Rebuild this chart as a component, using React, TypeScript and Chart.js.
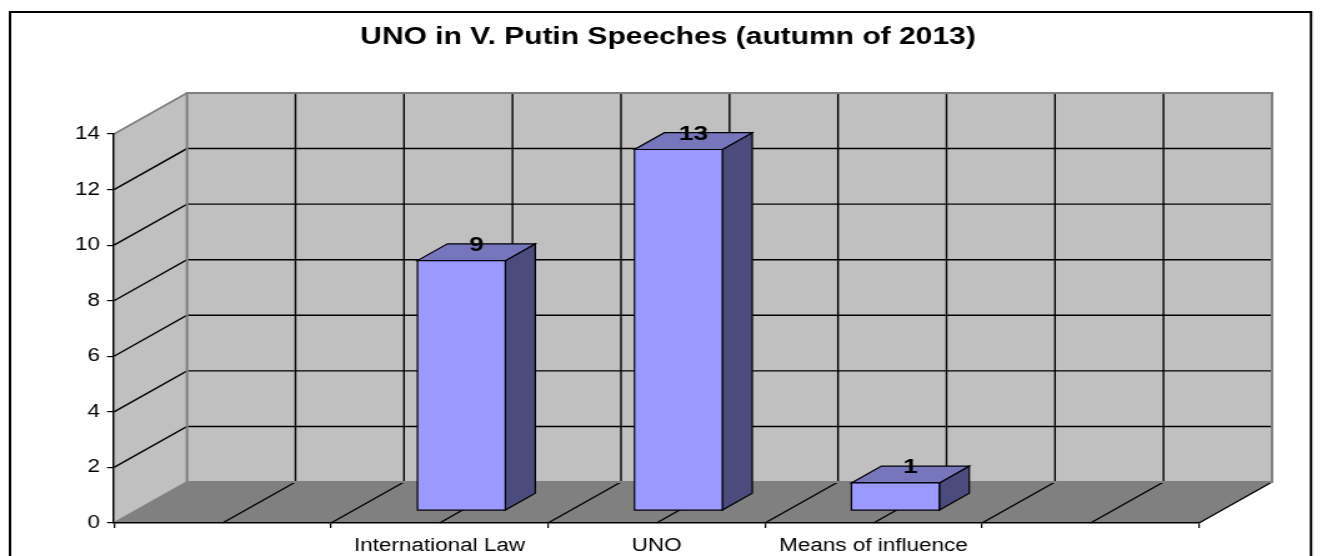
import React, { useEffect, useRef } from 'react';
import { Chart, registerables } from 'chart.js';

Chart.register(...registerables);

// ---------- data ----------
const categories: string[] = ['', 'International Law', 'UNO', 'Means of influence', ''];
const mentions: (number | null)[] = [null, 9, 13, 1, null];
const yTickValues: number[] = [0, 2, 4, 6, 8, 10, 12, 14];
const titleText = 'UNO in V. Putin Speeches (autumn of 2013)';

// ---------- geometry / style ----------
const CSS_W = 1322;
const CSS_H = 556;
const W = 1058; // intrinsic canvas width, stretched horizontally to CSS_W
const H = 556;
const SX = CSS_W / W;
const cx = (v: number) => v / SX; // css x -> intrinsic x

const FONT = 'Arial, "Liberation Sans", sans-serif';
const PLOT_LEFT = cx(114);
const PLOT_RIGHT = cx(1199);
const PLOT_TOP = 134;
const DX = cx(73); // depth offset (x)
const DY = -41; // depth offset (y)
const BAR_FRONT = 0.3; // depth fraction where bar front face sits
const BAR_DEPTH = 0.41; // depth fraction of bar
const FRAME_L = cx(10);
const FRAME_R = cx(1311);
const FRAME_T = 12;
const TITLE_X = cx(668);
const TITLE_Y = 37;

const WALL = '#C0C0C0';
const FLOOR = '#808080';
const EDGE = '#808080';
const BAR_FRONT_COLOR = '#9999FF';
const BAR_TOP_COLOR = '#7676BD';
const BAR_SIDE_COLOR = '#4B4B7D';

function poly(ctx: CanvasRenderingContext2D, pts: number[][], fill?: string, stroke?: string, lw = 1) {
  ctx.beginPath();
  ctx.moveTo(pts[0][0], pts[0][1]);
  for (let i = 1; i < pts.length; i++) ctx.lineTo(pts[i][0], pts[i][1]);
  ctx.closePath();
  if (fill) {
    ctx.fillStyle = fill;
    ctx.fill();
  }
  if (stroke) {
    ctx.strokeStyle = stroke;
    ctx.lineWidth = lw;
    ctx.stroke();
  }
}

function line(ctx: CanvasRenderingContext2D, x1: number, y1: number, x2: number, y2: number, color: string, lw: number) {
  ctx.beginPath();
  ctx.moveTo(x1, y1);
  ctx.lineTo(x2, y2);
  ctx.strokeStyle = color;
  ctx.lineWidth = lw;
  ctx.stroke();
}

const threeDPlugin = {
  id: 'threeD',
  beforeDraw(chart: any) {
    const { ctx } = chart;
    const xs = chart.scales.x;
    const ys = chart.scales.y;
    const yMax = yTickValues[yTickValues.length - 1];
    const y0 = ys.getPixelForValue(0);
    const yT = ys.getPixelForValue(yMax);
    const xl = xs.getPixelForValue(-0.5);
    const xr = xs.getPixelForValue(categories.length - 0.5);
    ctx.save();
    ctx.fillStyle = '#ffffff';
    ctx.fillRect(0, 0, chart.width, chart.height);
    // outer frame
    ctx.strokeStyle = '#000';
    ctx.lineWidth = 2;
    ctx.strokeRect(FRAME_L, FRAME_T, FRAME_R - FRAME_L, 700);

    // title
    ctx.fillStyle = '#000';
    ctx.font = `bold 24px ${FONT}`;
    ctx.textAlign = 'center';
    ctx.textBaseline = 'middle';
    ctx.fillText(titleText, TITLE_X, TITLE_Y);

    // walls and floor
    poly(ctx, [[xl, yT], [xl + DX, yT + DY], [xl + DX, y0 + DY], [xl, y0]], WALL);
    poly(ctx, [[xl + DX, yT + DY], [xr + DX, yT + DY], [xr + DX, y0 + DY], [xl + DX, y0 + DY]], WALL);
    poly(ctx, [[xl, y0], [xr, y0], [xr + DX, y0 + DY], [xl + DX, y0 + DY]], FLOOR);

    // value gridlines
    yTickValues.forEach((v) => {
      if (v === 0 || v === yMax) return;
      const yy = ys.getPixelForValue(v);
      ctx.beginPath();
      ctx.moveTo(xl, yy);
      ctx.lineTo(xl + DX, yy + DY);
      ctx.lineTo(xr + DX, yy + DY);
      ctx.strokeStyle = '#000';
      ctx.lineWidth = 1.4;
      ctx.stroke();
    });

    // category gridlines (every half category)
    const steps = categories.length * 2;
    for (let k = 1; k <= steps; k++) {
      const xv = xs.getPixelForValue(-0.5 + k * 0.5);
      if (k < steps) line(ctx, xv + DX, yT + DY, xv + DX, y0 + DY, '#000', 1.4);
      line(ctx, xv, y0, xv + DX, y0 + DY, '#000', 1.4);
    }

    // wall edges
    line(ctx, xl, yT, xl + DX, yT + DY, EDGE, 1.6);
    line(ctx, xl, y0, xl + DX, y0 + DY, EDGE, 1.6);
    ctx.strokeStyle = EDGE;
    ctx.lineWidth = 2;
    ctx.strokeRect(xl + DX, yT + DY, xr - xl, y0 - yT);
    ctx.restore();
  },
  beforeDatasetDraw() {
    return false;
  },
  afterDatasetsDraw(chart: any) {
    const { ctx } = chart;
    const meta = chart.getDatasetMeta(0);
    ctx.save();
    meta.data.forEach((el: any, i: number) => {
      const v = mentions[i];
      if (v === null || v === undefined) return;
      const p = el.getProps(['x', 'y', 'base', 'width'], true);
      const ox = BAR_FRONT * DX;
      const oy = BAR_FRONT * DY;
      const dx = BAR_DEPTH * DX;
      const dy = BAR_DEPTH * DY;
      const L = p.x - p.width / 2 + ox;
      const R = p.x + p.width / 2 + ox;
      const T = p.y + oy;
      const B = p.base + oy;
      poly(ctx, [[R, T], [R + dx, T + dy], [R + dx, B + dy], [R, B]], BAR_SIDE_COLOR, '#000', 1.2);
      poly(ctx, [[L, T], [R, T], [R + dx, T + dy], [L + dx, T + dy]], BAR_TOP_COLOR, '#000', 1.2);
      poly(ctx, [[L, T], [R, T], [R, B], [L, B]], BAR_FRONT_COLOR, '#000', 1.2);
      ctx.fillStyle = '#000';
      ctx.font = `bold 21px ${FONT}`;
      ctx.textAlign = 'center';
      ctx.textBaseline = 'middle';
      ctx.fillText(String(v), (L + R) / 2 + dx / 2, T + dy / 2 - 7);
    });
    ctx.restore();
  },
};

export default function App() {
  const canvasRef = useRef<HTMLCanvasElement | null>(null);

  useEffect(() => {
    const canvas = canvasRef.current;
    if (!canvas) return;
    const chart = new Chart(canvas, {
      type: 'bar',
      data: {
        labels: categories,
        datasets: [
          {
            label: 'Mentions',
            data: mentions as any,
            backgroundColor: BAR_FRONT_COLOR,
            categoryPercentage: 1,
            barPercentage: 0.405,
          },
        ],
      },
      options: {
        responsive: false,
        animation: false,
        devicePixelRatio: 1,
        events: [],
        layout: { padding: { left: 0, right: W - PLOT_RIGHT, top: PLOT_TOP, bottom: 0 } },
        plugins: {
          legend: { display: false },
          tooltip: { enabled: false },
          title: { display: false },
        },
        scales: {
          x: {
            offset: true,
            grid: {
              display: true,
              offset: true,
              drawOnChartArea: false,
              drawTicks: true,
              tickLength: 5,
              color: '#000',
              lineWidth: 1.2,
            },
            border: { display: true, color: '#000', width: 1.5 },
            ticks: {
              color: '#000',
              font: { family: FONT, size: 18 },
              padding: 7.7,
              maxRotation: 0,
              autoSkip: false,
            },
            afterFit: (scale: any) => {
              scale.height = H - 523;
            },
          },
          y: {
            min: 0,
            max: yTickValues[yTickValues.length - 1],
            grid: {
              display: true,
              drawOnChartArea: false,
              drawTicks: true,
              tickLength: 5.6,
              color: '#000',
              lineWidth: 1.2,
            },
            border: { display: true, color: '#000', width: 1.5 },
            ticks: {
              color: '#000',
              font: { family: FONT, size: 18 },
              padding: 5.6,
            },
            afterBuildTicks: (scale: any) => {
              scale.ticks = yTickValues.map((v) => ({ value: v }));
            },
            afterFit: (scale: any) => {
              scale.width = PLOT_LEFT;
            },
          },
        },
      },
      plugins: [threeDPlugin],
    });
    return () => chart.destroy();
  }, []);

  return (
    <canvas
      ref={canvasRef}
      width={W}
      height={H}
      style={{ position: 'absolute', left: 0, top: 0, width: `${CSS_W}px`, height: `${CSS_H}px` }}
    />
  );
}
